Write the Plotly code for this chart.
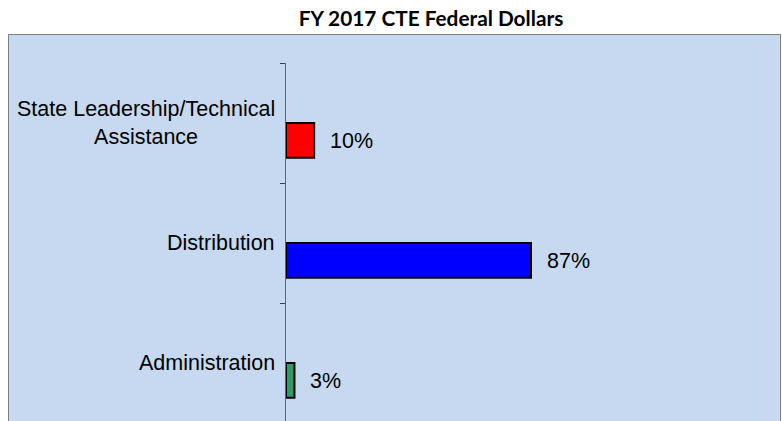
import plotly.graph_objects as go

categories = ["State Leadership/Technical Assistance", "Distribution", "Administration"]
tick_labels = ["State Leadership/Technical<br>Assistance", "Distribution", "Administration"]
values = [10, 87, 3]
value_labels = ["10%", "87%", "3%"]
bar_colors = ["#FF0000", "#0000FF", "#339966"]
title_text = "FY 2017 CTE Federal Dollars"

W, H = 782, 421
ML, MR, MT, MB = 286, 12, 63, 0
pw = W - ML - MR
ph = H - MT - MB
px_per_unit = 2.816
px_per_cat = 120.0

fig = go.Figure()
fig.add_trace(go.Bar(
    x=values, y=categories, orientation="h",
    marker=dict(color=bar_colors, line=dict(color="#000000", width=2)),
    width=0.29, offset=0, showlegend=False, hoverinfo="skip",
))

lab_font = dict(family="Liberation Sans, Arial, sans-serif", size=21.5, color="#000000")
annotations = []
for cat, lab in zip(categories, tick_labels):
    annotations.append(dict(
        x=0, xref="paper", y=cat, yref="y", text=lab, showarrow=False,
        xanchor="right", yanchor="middle", align="center", xshift=-9,
        font=lab_font,
    ))
for cat, v, t in zip(categories, values, value_labels):
    annotations.append(dict(
        x=v, xref="x", y=cat, yref="y", text=t, showarrow=False,
        xanchor="left", yanchor="middle", xshift=14, yshift=-18,
        font=lab_font,
    ))

fig.update_layout(
    width=W, height=H,
    margin=dict(l=ML, r=MR, t=MT, b=MB, pad=0),
    paper_bgcolor="#FFFFFF",
    plot_bgcolor="rgba(0,0,0,0)",
    title=dict(text="<b>" + title_text + "</b>", x=431 / W, xref="container", xanchor="center",
               y=1 - 19 / H, yref="container", yanchor="middle",
               font=dict(family="Lato, sans-serif", size=20.8, color="#000000")),
    xaxis=dict(range=[0, pw / px_per_unit], visible=False, fixedrange=True),
    yaxis=dict(type="category", categoryorder="array", categoryarray=categories,
               range=[-0.5 + ph / px_per_cat, -0.5], autorange=False,
               showline=True, linecolor="#5F6368", linewidth=1,
               ticks="outside", tickson="boundaries", ticklen=5, tickcolor="#404040", tickwidth=1,
               showticklabels=False, showgrid=False, zeroline=False, fixedrange=True),
    annotations=annotations,
    shapes=[dict(type="rect", xref="paper", yref="paper",
                 x0=(8.5 - ML) / pw, x1=(780.5 - ML) / pw,
                 y0=-0.1, y1=1 + (MT - 34.5) / ph,
                 fillcolor="#C6D9F0", line=dict(color="#7F7F7F", width=1), layer="below")],
)

fig.write_html("out.html", config={"displayModeBar": False},
               post_script="document.body.style.margin='0';document.body.style.overflow='hidden';")
